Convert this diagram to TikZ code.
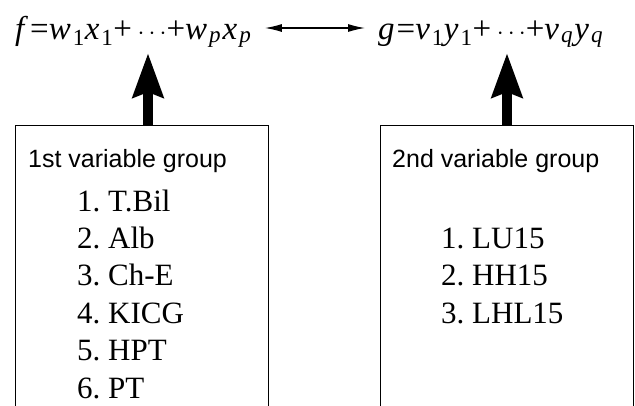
\documentclass[tikz,border=0pt]{standalone}
\usepackage{fontspec}
\setmainfont{Liberation Serif}
\newfontfamily\labelfont{Liberation Sans}
\newfontfamily\formulafont[LetterSpace=6]{Liberation Serif}
\usetikzlibrary{arrows.meta,positioning}
\frenchspacing

\begin{document}
\begin{tikzpicture}[x=1pt,y=1pt,
        formula/.style={anchor=base west,inner sep=0pt,font=\formulafont\fontsize{33}{40}\selectfont},
        groupbox/.style={draw,line width=0.8pt,minimum width=253pt,minimum height=320pt,anchor=north west,inner sep=0pt},
        grouplabel/.style={anchor=base west,inner sep=0pt,font=\labelfont\fontsize{25}{30}\selectfont},
        item/.style={anchor=base west,inner sep=0pt,font=\fontsize{31}{37}\selectfont},
        uparrow/.style={line width=10pt,-{Stealth[length=44pt,width=30pt,inset=5pt]}},
        dblarrow/.style={line width=1.2pt,{Latex[length=17pt,width=8pt]}-{Latex[length=17pt,width=8pt]}}]
        \useasboundingbox (0,0) rectangle (635,-405);
        % Formulas
        \node[formula] (f) at (15,-39) {\textit{f}=\textit{w}\textsubscript{1}\textit{x}\textsubscript{1}+\,$\cdots$+\textit{w}\textsubscript{\textit{p}}\textit{x}\textsubscript{\textit{p}}};
        \node[formula] (g) at (378,-39) {\textit{g}=\textit{v}\textsubscript{1}\textit{y}\textsubscript{1}+\,$\cdots$+\textit{v}\textsubscript{\textit{q}}\textit{y}\textsubscript{\textit{q}}};
        \draw[dblarrow] ([xshift=12pt,yshift=11pt]f.base east) -- ([xshift=-13pt,yshift=11pt]g.base west);
        % Variable groups
        \node[groupbox] (box1) at (15,-125) {};
        \node[groupbox] (box2) at (380,-125) {};
        \node[grouplabel] (lab1) at (28,-167) {1st variable group};
        \node[grouplabel] (lab2) at (392,-167) {2nd variable group};
        \foreach \n/\t in {1/T.Bil, 2/Alb, 3/Ch-E, 4/KICG, 5/HPT, 6/PT}
            \node[item] (x\n) at (77,{-211-(\n-1)*37.4}) {\n. \t};
        \foreach \n/\t in {1/LU15, 2/HH15, 3/LHL15}
            \node[item] (y\n) at (441,{-248.4-(\n-1)*37.4}) {\n. \t};
        % Arrows up
        \coordinate (ftip) at (148,-53);
        \coordinate (gtip) at (507,-53);
        \draw[uparrow] (box1.north -| ftip) -- (ftip);
        \draw[uparrow] (box2.north -| gtip) -- (gtip);
    \end{tikzpicture}
\end{document}
